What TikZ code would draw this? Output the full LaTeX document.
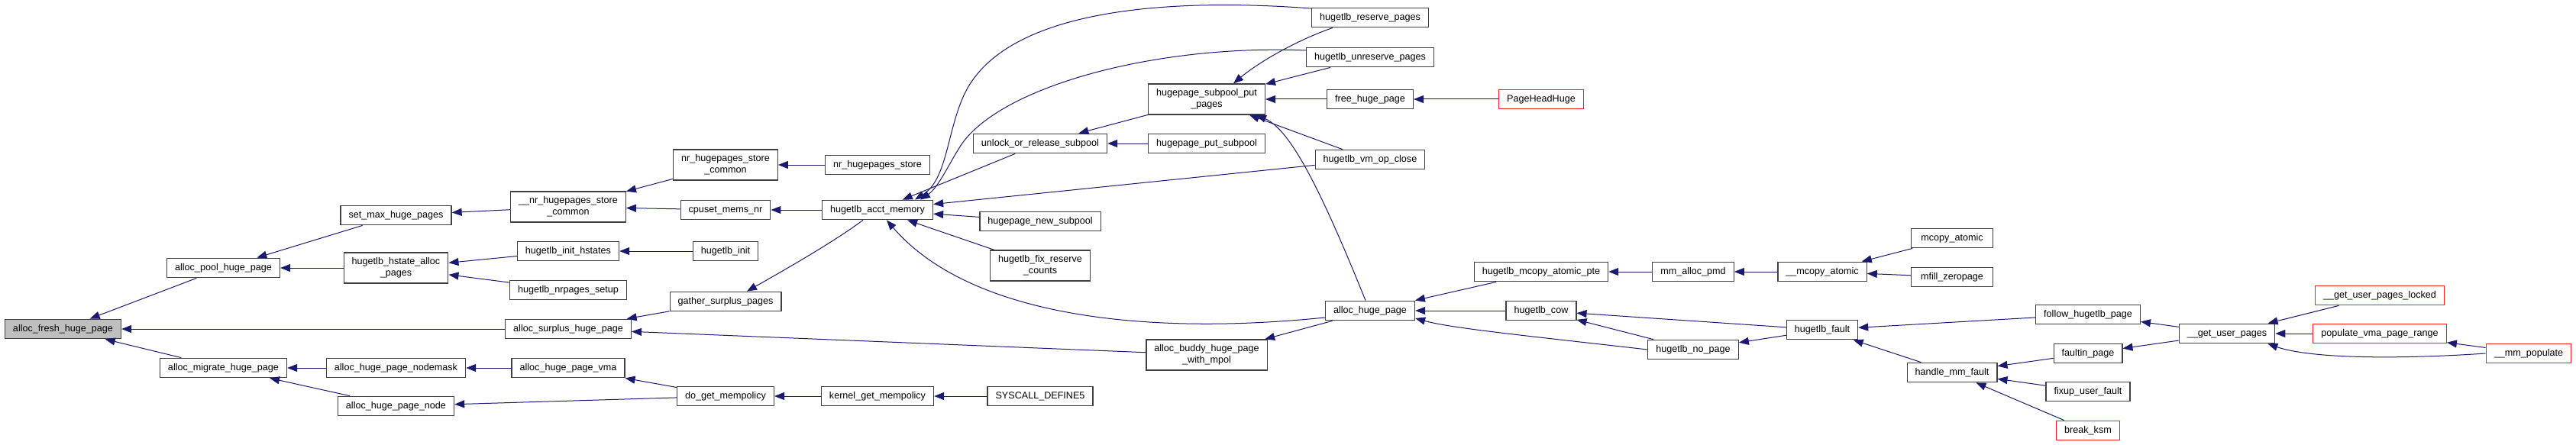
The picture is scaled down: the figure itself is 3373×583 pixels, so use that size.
\documentclass[tikz,border=0pt]{standalone}
\usepackage{fontspec}
\setmainfont{Liberation Sans}
\usepackage{xcolor}
\usepackage{tikz}
\usetikzlibrary{arrows.meta}
\definecolor{edgec}{RGB}{25,25,112}
\definecolor{boxc}{RGB}{64,64,64}
\definecolor{rootc}{RGB}{191,191,191}
\definecolor{redc}{RGB}{255,30,30}

\begin{document}
\begin{tikzpicture}[x=1pt,y=-1pt,
  fnbase/.style={draw=boxc,line width=1.3pt,fill=white,font=\fontsize{12.6}{15}\selectfont,inner xsep=10.5pt},
  fn/.style={fnbase,inner ysep=0pt,minimum height=25.5pt,text height=9.3pt,text depth=2.7pt},
  fntwo/.style={fnbase,align=center,inner ysep=2pt,minimum height=40pt},
  fnred/.style={fn,draw=redc},
  call/.style={draw=edgec,line width=1pt,-{Triangle[length=13pt,width=10pt]}}]
\useasboundingbox (0,0) rectangle (3373,583);
% columns, left to right
\node[fn,fill=rootc] (fresh) at (82.5,431) {alloc\_fresh\_huge\_page};
\node[fn] (pool) at (292.5,351) {alloc\_pool\_huge\_page};
\node[fn] (migrate) at (292.5,482) {alloc\_migrate\_huge\_page};
\node[fn] (setmax) at (518.5,282) {set\_max\_huge\_pages};
\node[fntwo] (hstate) at (518.5,351) {hugetlb\_hstate\_alloc\\\_pages};
\node[fn] (nodemask) at (518.5,482) {alloc\_huge\_page\_nodemask};
\node[fn] (pagenode) at (518.5,532) {alloc\_huge\_page\_node};
\node[fntwo] (nrstorecommon) at (744,271) {\_\_nr\_hugepages\_store\\\_common};
\node[fn] (inithstates) at (744,329) {hugetlb\_init\_hstates};
\node[fn] (nrpagessetup) at (744,380) {hugetlb\_nrpages\_setup};
\node[fn] (surplus) at (744,431) {alloc\_surplus\_huge\_page};
\node[fn] (pagevma) at (744,482) {alloc\_huge\_page\_vma};
\node[fntwo] (storecommon) at (950,216) {nr\_hugepages\_store\\\_common};
\node[fn] (cpuset) at (950,275) {cpuset\_mems\_nr};
\node[fn] (init) at (950,329) {hugetlb\_init};
\node[fn] (gather) at (950,395) {gather\_surplus\_pages};
\node[fn] (getmempol) at (950,519) {do\_get\_mempolicy};
\node[fn] (store) at (1149,216) {nr\_hugepages\_store};
\node[fn] (acct) at (1149,275) {hugetlb\_acct\_memory};
\node[fn] (kernelmempol) at (1149,519) {kernel\_get\_mempolicy};
\node[fn] (unlock) at (1362,188) {unlock\_or\_release\_subpool};
\node[fn] (newsubpool) at (1362,290) {hugepage\_new\_subpool};
\node[fntwo] (fixreserve) at (1362,348) {hugetlb\_fix\_reserve\\\_counts};
\node[fn] (syscall) at (1362,519) {SYSCALL\_DEFINE5};
\node[fntwo] (putpages) at (1580,130) {hugepage\_subpool\_put\\\_pages};
\node[fn] (putsubpool) at (1580,188) {hugepage\_put\_subpool};
\node[fntwo] (buddy) at (1580,465) {alloc\_buddy\_huge\_page\\\_with\_mpol};
\node[fn] (reserve) at (1794,23) {hugetlb\_reserve\_pages};
\node[fn] (unreserve) at (1794,75) {hugetlb\_unreserve\_pages};
\node[fn] (freepage) at (1794,130) {free\_huge\_page};
\node[fn] (vmclose) at (1794,209) {hugetlb\_vm\_op\_close};
\node[fn] (allocpage) at (1794,407) {alloc\_huge\_page};
\node[fnred] (headhuge) at (2018,130) {PageHeadHuge};
\node[fn] (mcopypte) at (2018,356) {hugetlb\_mcopy\_atomic\_pte};
\node[fn] (cow) at (2018,407) {hugetlb\_cow};
\node[fn] (pmd) at (2217,356) {mm\_alloc\_pmd};
\node[fn] (nopage) at (2217,458) {hugetlb\_no\_page};
\node[fn] (mcopyint) at (2386,356) {\_\_mcopy\_atomic};
\node[fn] (fault) at (2386,432) {hugetlb\_fault};
\node[fn,minimum width=107pt] (mcopy) at (2556,312) {mcopy\_atomic};
\node[fn,minimum width=107pt] (zeropage) at (2556,363) {mfill\_zeropage};
\node[fn] (mmfault) at (2556,488) {handle\_mm\_fault};
\node[fn] (follow) at (2734,412) {follow\_hugetlb\_page};
\node[fn] (faultin) at (2734,463) {faultin\_page};
\node[fn] (fixup) at (2734,513) {fixup\_user\_fault};
\node[fnred] (ksm) at (2734,564) {break\_ksm};
\node[fn] (gup) at (2916,437) {\_\_get\_user\_pages};
\node[fnred] (guplocked) at (3116,387) {\_\_get\_user\_pages\_locked};
\node[fnred] (populate) at (3116,437) {populate\_vma\_page\_range};
\node[fnred] (mmpopulate) at (3311,463) {\_\_mm\_populate};
% calls, caller -> callee
\draw[call] (pool) -- (fresh);
\draw[call] (surplus) -- (fresh);
\draw[call] (migrate) -- (fresh);
\draw[call] (setmax) -- (pool);
\draw[call] (hstate) -- (pool);
\draw[call] (nodemask) -- (migrate);
\draw[call] (pagenode) -- (migrate);
\draw[call] (nrstorecommon) -- (setmax);
\draw[call] (inithstates) -- (hstate);
\draw[call] (nrpagessetup) -- (hstate);
\draw[call] (gather) -- (surplus);
\draw[call] (buddy) -- (surplus);
\draw[call] (pagevma) -- (nodemask);
\draw[call] (getmempol) -- (pagevma);
\draw[call] (getmempol) -- (pagenode);
\draw[call] (storecommon) -- (nrstorecommon);
\draw[call] (cpuset) -- (nrstorecommon);
\draw[call] (init) -- (inithstates);
\draw[call] ([xshift=-19pt]acct.south) .. controls (1090,318) and (1030,352) .. ([xshift=28pt]gather.north);
\draw[call] (acct) -- (cpuset);
\draw[call] (store) -- (storecommon);
\draw[call] (kernelmempol) -- (getmempol);
\draw[call] (syscall) -- (kernelmempol);
% the bent ones into hugetlb_acct_memory
\draw[call] ([yshift=12pt]reserve.west) .. controls (1500,-5) and (1310,20) .. (1262,125) .. controls (1240,173) and (1240,235) .. ([xshift=49pt]acct.north);
\draw[call] ([yshift=9pt]unreserve.west) .. controls (1520,58) and (1320,110) .. (1262,185) .. controls (1247,205) and (1230,245) .. ([xshift=56pt]acct.north);
\draw[call] (unlock) -- (acct);
\draw[call] (vmclose) -- (acct);
\draw[call] (newsubpool) -- (acct);
\draw[call] (fixreserve) -- (acct);
\draw[call] ([yshift=-9pt]allocpage.west) .. controls (1500,440) and (1270,415) .. ([xshift=12pt]acct.south);
\draw[call] (putpages) -- (unlock);
\draw[call] (putsubpool) -- (unlock);
\draw[call] ([xshift=-49pt]reserve.south) .. controls (1700,52) and (1650,80) .. ([xshift=35pt]putpages.north);
\draw[call] (unreserve) -- (putpages);
\draw[call] (freepage) -- (putpages);
\draw[call] (vmclose) -- (putpages);
\draw[call] ([xshift=-6pt]allocpage.north) .. controls (1730,250) and (1690,170) .. ([xshift=-12pt]putpages.south east);
\draw[call] (allocpage) -- (buddy);
\draw[call] (headhuge) -- (freepage);
\draw[call] (mcopypte) -- (allocpage);
\draw[call] (cow) -- (allocpage);
\draw[call] (nopage.west) .. controls (2000,440) and (1900,430) .. ([yshift=-10pt]allocpage.east);
\draw[call] (pmd) -- (mcopypte);
\draw[call] (mcopyint) -- (pmd);
\draw[call] (mcopy) -- (mcopyint);
\draw[call] (zeropage) -- (mcopyint);
\draw[call] (fault) -- (cow);
\draw[call] (nopage) -- (cow);
\draw[call] (fault) -- (nopage);
\draw[call] (follow) -- (fault);
\draw[call] (mmfault) -- (fault);
\draw[call] (faultin) -- (mmfault);
\draw[call] (fixup) -- (mmfault);
\draw[call] (ksm) -- (mmfault);
\draw[call] (gup) -- (follow);
\draw[call] (gup) -- (faultin);
\draw[call] (guplocked) -- (gup);
\draw[call] (populate) -- (gup);
\draw[call] (mmpopulate.west) .. controls (3120,472) and (3020,468) .. ([xshift=-10pt]gup.south east);
\draw[call] (mmpopulate) -- (populate);
\end{tikzpicture}
\end{document}
